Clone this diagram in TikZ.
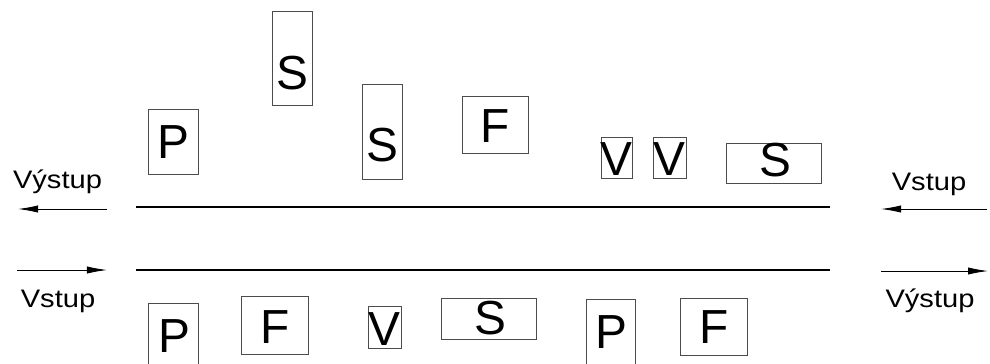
\documentclass[tikz,border=0pt]{standalone}
\usepackage{fontspec}
\setmainfont{Liberation Sans}
\usetikzlibrary{arrows.meta}

\begin{document}
\begin{tikzpicture}[
  x=0.025cm, y=-0.025cm,
  blok/.style={rectangle, draw=black!70, line width=0.6pt, inner sep=0pt, outer sep=0pt},
  znak/.style={anchor=base, inner sep=0pt, font=\fontsize{34}{40}\selectfont},
  popis/.style={anchor=base, inner sep=0pt, font=\fontsize{18}{22}\selectfont, xscale=1.15},
  trat/.style={line width=1.5pt},
  sipka/.style={-{Latex[length=5mm, width=1.8mm]}, line width=0.6pt}
]
\clip (0,0) rectangle (990,363);

% ---- Blocks above ----
\node (p1) [blok, minimum width=1.25cm, minimum height=1.625cm] at (173,141.5) {};
\node (s1) [blok, minimum width=1.0cm, minimum height=2.35cm]   at (292,58) {};
\node (s2) [blok, minimum width=1.0cm, minimum height=2.375cm]  at (382,131.5) {};
\node (f1) [blok, minimum width=1.65cm, minimum height=1.425cm] at (495,124.5) {};
\node (v1) [blok, minimum width=0.775cm, minimum height=1.025cm] at (616.5,157.5) {};
\node (v2) [blok, minimum width=0.825cm, minimum height=1.025cm] at (669.5,157.5) {};
\node (s3) [blok, minimum width=2.375cm, minimum height=1.0cm]  at (773.5,163) {};

\node (p1z) [znak] at (173,158) {P};
\node (s1z) [znak] at (292,89)  {S};
\node (s2z) [znak] at (382,161) {S};
\node (f1z) [znak] at (495,142) {F};
\node (v1z) [znak] at (616.5,175) {V};
\node (v2z) [znak] at (669.5,175) {V};
\node (s3z) [znak] at (775,176) {S};

% ---- Blocks below ----
\node (p2) [blok, minimum width=1.25cm, minimum height=1.8cm]   at (173,339) {};
\node (f2) [blok, minimum width=1.675cm, minimum height=1.45cm] at (274.5,325) {};
\node (v3) [blok, minimum width=0.825cm, minimum height=1.05cm] at (384.5,327) {};
\node (s4) [blok, minimum width=2.375cm, minimum height=1.025cm] at (488.5,318.5) {};
\node (p3) [blok, minimum width=1.225cm, minimum height=1.9cm]  at (610.5,337) {};
\node (f3) [blok, minimum width=1.675cm, minimum height=1.425cm] at (713.5,326.5) {};

\node (p2z) [znak] at (174,352) {P};
\node (f2z) [znak] at (275,343) {F};
\node (v3z) [znak] at (384.5,345) {V};
\node (s4z) [znak] at (490,334) {S};
\node (p3z) [znak] at (611,348) {P};
\node (f3z) [znak] at (714,343) {F};

% ---- Tracks ----
\coordinate (hornaL) at (136,207);
\coordinate (hornaP) at (830,207);
\coordinate (dolnaL) at (136,270);
\coordinate (dolnaP) at (830,270);
\draw [trat] (hornaL) -- (hornaP);
\draw [trat] (dolnaL) -- (dolnaP);

% ---- Arrows ----
\coordinate (a1) at (107,209);
\coordinate (a2) at (18,209);
\coordinate (b1) at (17,270);
\coordinate (b2) at (107,270);
\coordinate (c1) at (987,209);
\coordinate (c2) at (881,209);
\coordinate (d1) at (881,271);
\coordinate (d2) at (988,271);
\draw [sipka] (a1) -- (a2);
\draw [sipka] (b1) -- (b2);
\draw [sipka] (c1) -- (c2);
\draw [sipka] (d1) -- (d2);

% ---- Labels ----
\node (vyst1) [popis] at (57.5,188) {Výstup};
\node (vst1)  [popis] at (58,307)   {Vstup};
\node (vst2)  [popis] at (929,190)  {Vstup};
\node (vyst2) [popis] at (930,307)  {Výstup};
\end{tikzpicture}
\end{document}
